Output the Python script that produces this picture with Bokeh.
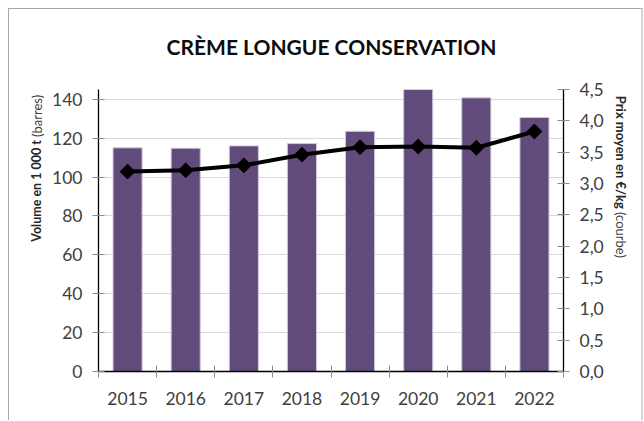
import numpy as np
from bokeh.plotting import figure
from bokeh.models import Range1d, LinearAxis, FixedTicker
from bokeh.layouts import row, column
from bokeh.core.properties import value
from bokeh.embed import file_html
from bokeh.resources import INLINE

years = ["2015", "2016", "2017", "2018", "2019", "2020", "2021", "2022"]
volumes = [115.0, 114.8, 116.0, 117.2, 123.5, 145.0, 140.7, 130.6]
prices = [3.19, 3.21, 3.29, 3.46, 3.58, 3.59, 3.57, 3.83]
vol_ticks = [0, 20, 40, 60, 80, 100, 120, 140]
price_ticks = [0.0, 0.5, 1.0, 1.5, 2.0, 2.5, 3.0, 3.5, 4.0, 4.5]
price_tick_labels = ["0,0", "0,5", "1,0", "1,5", "2,0", "2,5", "3,0", "3,5", "4,0", "4,5"]

title_text = "CRÈME LONGUE CONSERVATION"
left_bold = "Volume en 1 000 t"
left_norm = "(barres)"
right_bold = "Prix moyen en €/kg"
right_norm = "(courbe)"

n = len(years)
xc = [i + 0.5 for i in range(n)]

FONT = "Lato"
TXT = "#404040"
TOP_H = 65
H = 346
LW, MW, RW = 40, 562, 30


def blank_fig(w, h, y_range=None):
    f = figure(width=w, height=h, output_backend="svg", toolbar_location=None,
               x_range=Range1d(0, w), y_range=y_range if y_range is not None else Range1d(0, h),
               min_border=0, x_axis_location=None, y_axis_location=None)
    f.outline_line_color = None
    f.grid.visible = False
    f.background_fill_color = "white"
    f.border_fill_color = "white"
    return f


# ---------------- title ----------------
tf = blank_fig(LW + MW + RW, TOP_H)
tf.text(x=[322], y=[28], text=[title_text], text_align="center", text_baseline="middle",
        text_font=value(FONT), text_font_size="21px", text_font_style="bold",
        text_color="#0d0d0d")

# ---------------- main chart ----------------
p = figure(width=MW, height=H, output_backend="svg", toolbar_location=None,
           x_range=Range1d(0, n), y_range=Range1d(0, 145),
           min_border_left=48, min_border_right=48, min_border_top=15, min_border_bottom=49,
           x_axis_location=None, y_axis_location=None)
p.outline_line_color = None
p.background_fill_color = "white"
p.border_fill_color = "white"

p.extra_y_ranges = {"prix": Range1d(0, 4.5)}

p.xgrid.visible = False
p.ygrid.ticker = FixedTicker(ticks=vol_ticks)
p.ygrid.grid_line_color = "#d9d9d9"
p.ygrid.grid_line_width = 1

p.vbar(x=xc, top=volumes, width=0.5, fill_color="#604b7b", line_color="#cfc6dc", line_width=1)

p.line(x=xc, y=prices, y_range_name="prix", line_color="black", line_width=4)
p.scatter(x=xc, y=prices, y_range_name="prix", marker="square", angle=np.pi / 4,
          size=10.5, fill_color="black", line_color="black")


def style_axis(ax):
    ax.axis_line_color = "black"
    ax.axis_line_width = 1.3
    ax.major_tick_line_color = "#8c8c8c"
    ax.minor_tick_line_color = "#8c8c8c"
    ax.major_tick_in = 6
    ax.major_tick_out = 6
    ax.minor_tick_in = 0
    ax.minor_tick_out = 0
    ax.major_label_text_font = FONT
    ax.major_label_text_font_size = "17.5px"
    ax.major_label_text_color = TXT
    ax.major_label_standoff = 10


xax = LinearAxis(ticker=FixedTicker(ticks=xc, minor_ticks=list(range(n + 1))))
style_axis(xax)
xax.major_tick_in = 0
xax.major_tick_out = 0
xax.minor_tick_in = 6
xax.minor_tick_out = 6
xax.major_label_standoff = 14
xax.major_label_overrides = {x: y for x, y in zip(xc, years)}
p.add_layout(xax, "below")

yl = LinearAxis(ticker=FixedTicker(ticks=vol_ticks))
style_axis(yl)
p.add_layout(yl, "left")

yr = LinearAxis(y_range_name="prix", ticker=FixedTicker(ticks=price_ticks))
style_axis(yr)
yr.major_label_overrides = {t: s for t, s in zip(price_ticks, price_tick_labels)}
p.add_layout(yr, "right")

# ---------------- side panels for the axis titles (share the main vertical range) ----------------
lf = blank_fig(LW, H, y_range=p.y_range)
lf.text(x=[27], y=[119.0], text=[left_bold], angle=np.pi / 2, text_align="right",
        text_baseline="middle", text_font=value(FONT), text_font_size="12.5px",
        text_font_style="bold", text_color="#262626")
lf.text(x=[27], y=[120.6], text=[left_norm], angle=np.pi / 2, text_align="left",
        text_baseline="middle", text_font=value(FONT), text_font_size="13px",
        text_color="#404040")

rf = blank_fig(RW, H, y_range=p.y_range)
rf.text(x=[9], y=[83.6], text=[right_bold], angle=-np.pi / 2, text_align="right",
        text_baseline="middle", text_font=value(FONT), text_font_size="13px",
        text_font_style="bold", text_color="#262626")
rf.text(x=[9], y=[82.0], text=[right_norm], angle=-np.pi / 2, text_align="left",
        text_baseline="middle", text_font=value(FONT), text_font_size="13px",
        text_color="#404040")

lay = column(tf, row(lf, p, rf, spacing=0), spacing=0)
lay.margin = (8, 0, 0, 8)
lay.styles = {"border-left": "1px solid #a6a6a6", "border-top": "1px solid #a6a6a6",
              "border-right": "2px solid #d4d4d4"}

open("out.html", "w").write(file_html(lay, INLINE))
